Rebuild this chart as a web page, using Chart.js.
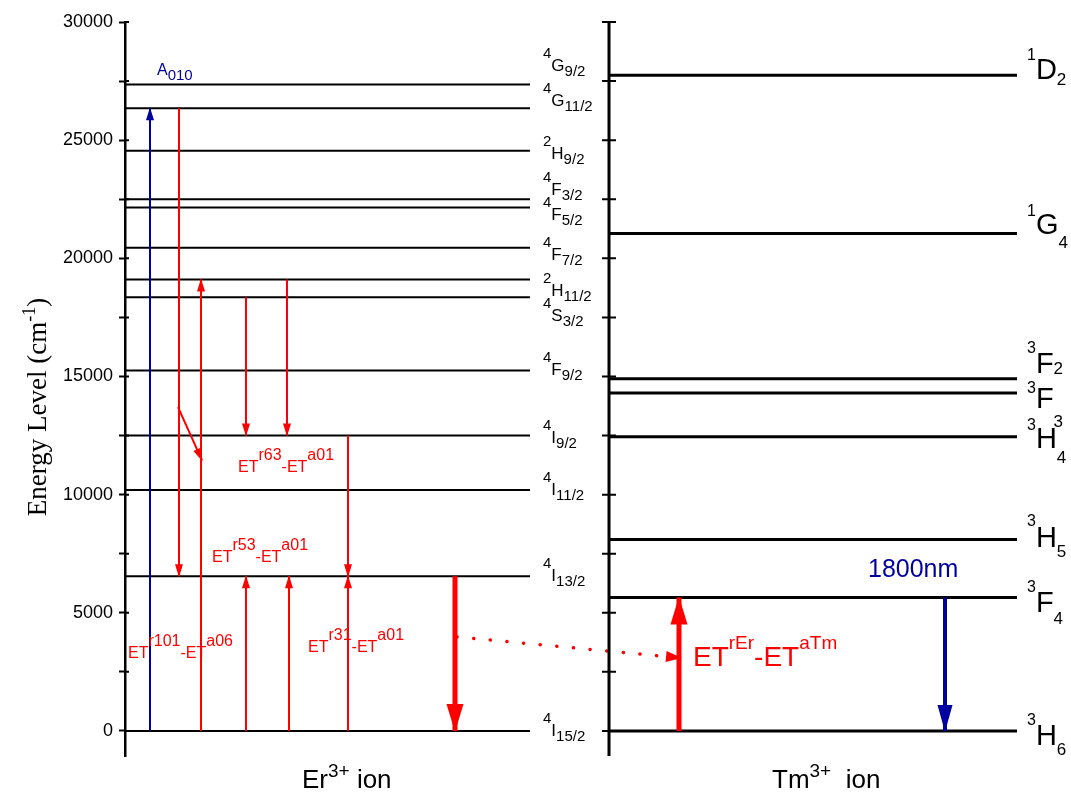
<!DOCTYPE html>
<html>
<head>
<meta charset="utf-8">
<script src="https://cdn.jsdelivr.net/npm/chart.js@4.4.1/dist/chart.umd.min.js"></script>
<style>
  html, body { margin: 0; padding: 0; background: #fff; }
  #wrap { width: 1071px; height: 796px; }
</style>
</head>
<body>
<div id="wrap"><canvas id="chartLevels"></canvas></div>
<script>
// Niveles de energia (cm-1)
const erTerms = [["4","G","9/2"],["4","G","11/2"],["2","H","9/2"],["4","F","3/2"],["4","F","5/2"],
  ["4","F","7/2"],["2","H","11/2"],["4","S","3/2"],["4","F","9/2"],["4","I","9/2"],
  ["4","I","11/2"],["4","I","13/2"],["4","I","15/2"]];
const erEnergy = [27350, 26350, 24550, 22500, 22150, 20450, 19100, 18350, 15250, 12500, 10200, 6550, 0];

const tmTerms = [["1","D","2"],["1","G","4"],["3","F","2"],["3","F","3"],["3","H","4"],
  ["3","H","5"],["3","F","4"],["3","H","6"]];
const tmEnergy = [27750, 21050, 14900, 14300, 12450, 8100, 5650, 0];

const tickValues = [0, 2500, 5000, 7500, 10000, 12500, 15000, 17500, 20000, 22500, 25000, 27500, 30000];

// Transiciones: energia de salida / llegada
const arrowFrom = [0, 26350, 0, 13700, 18350, 19100, 12500, 0, 0, 0, 6550, 3980, 0, 5650];
const arrowTo   = [26350, 6550, 19100, 11450, 12500, 12500, 6550, 6550, 6550, 6550, 0, 3090, 5650, 0];

// Etiquetas de transferencia
const etTexts = [
  ["A", "010"],
  ["ET", "r63", "-ET", "a01"],
  ["ET", "r53", "-ET", "a01"],
  ["ET", "r101", "-ET", "a06"],
  ["ET", "r31", "-ET", "a01"],
  ["ET", "rEr", "-ET", "aTm"],
  ["1800nm"]
];
const etEnergy = [27760, 10960, 7150, 3090, 3340, 2750, 6520];

// ---- layout (columnas en px desde el eje izquierdo) ----
const X_MAX = 946;
const erSpan = [0, 405];
const tmSpan = [484, 892];
const tmAxisX = 484;
const RED = "#ff0000", BLUE = "#0000a0";
const arrowCols = [
  [25, 25, BLUE, 2, 12, 8], [54, 54, RED, 2, 12, 8], [76, 76, RED, 2, 12, 8],
  [53, 77, RED, 2, 12, 8], [121, 121, RED, 2, 12, 8], [162, 162, RED, 2, 12, 8],
  [223, 223, RED, 2, 12, 8], [121, 121, RED, 2, 12, 8], [164, 164, RED, 2, 12, 8],
  [223, 223, RED, 2, 12, 8], [330, 330, RED, 5, 27, 17], [332, 556, RED, 3.5, 15, 11],
  [554, 554, RED, 5, 27, 17], [820, 820, BLUE, 4, 26, 15]
];
const dottedIdx = 11;
const erLabelDy = [-14, -2, 8, -4, 12, 12, 16, 24, 4, 7, 5, 5, 5];
const tmLabelDy = [4, 0, -6, 15, 11, 7, 15, 14];
const tmSupRise = [19, 18, 20, 15, 18, 21, 20, 20];
const tmSubDrop = [6, 14, 1, 19, 15, 10, 12, 10];
const etCols = [32, 113, 87, 3, 183, 568, 743];

const SANS = '"Liberation Sans", Arial, sans-serif';
const SERIF = '"Liberation Serif", "Times New Roman", serif';

const runs = (ctx, x, y, parts, color) => {
  ctx.fillStyle = color;
  ctx.textAlign = "left";
  ctx.textBaseline = "alphabetic";
  for (const [t, size, rise, fam] of parts) {
    ctx.font = size + "px " + (fam || SANS);
    ctx.fillText(t, x, y - rise);
    x += ctx.measureText(t).width;
  }
  return x;
};

const levelData = (energies, span) => {
  const pts = [];
  energies.forEach((e) => {
    pts.push({ x: span[0], y: e }, { x: span[1], y: e }, { x: span[1], y: null });
  });
  return pts;
};

const datasets = [
  { data: levelData(erEnergy, erSpan), borderColor: "#000", borderWidth: 2, order: 3 },
  { data: levelData(tmEnergy, tmSpan), borderColor: "#000", borderWidth: 3, order: 3 }
];
arrowFrom.forEach((from, i) => {
  const [x0, x1, color, w, hl, hw] = arrowCols[i];
  const ds = {
    data: [{ x: x0, y: from }, { x: x1, y: arrowTo[i] }],
    borderColor: color,
    borderWidth: w,
    order: 1,
    arrowHead: [hl, hw]
  };
  if (i === dottedIdx) {
    ds.borderDash = [0.1, 16.6];
    ds.borderCapStyle = "round";
  }
  datasets.push(ds);
});

const decor = {
  id: "decor",
  afterDatasetsDraw(chart) {
    const ctx = chart.ctx;
    const xs = chart.scales.x, ys = chart.scales.y;
    const area = chart.chartArea;
    ctx.save();

    // puntas de flecha
    chart.data.datasets.forEach((ds, i) => {
      if (!ds.arrowHead) return;
      const pts = chart.getDatasetMeta(i).data;
      const p0 = pts[0], p1 = pts[1];
      const a = Math.atan2(p1.y - p0.y, p1.x - p0.x);
      const [len, wid] = ds.arrowHead;
      const bx = p1.x - len * Math.cos(a), by = p1.y - len * Math.sin(a);
      const nx = -Math.sin(a) * wid / 2, ny = Math.cos(a) * wid / 2;
      ctx.fillStyle = ds.borderColor;
      ctx.beginPath();
      ctx.moveTo(p1.x + Math.cos(a) * 1, p1.y + Math.sin(a) * 1);
      ctx.lineTo(bx + nx, by + ny);
      ctx.lineTo(bx - nx, by - ny);
      ctx.closePath();
      ctx.fill();
    });

    // eje derecho (Tm) con marcas cruzadas, y marcas internas del izquierdo
    ctx.strokeStyle = "#000";
    const ax = xs.getPixelForValue(tmAxisX);
    ctx.lineWidth = 3;
    ctx.beginPath();
    ctx.moveTo(ax, ys.getPixelForValue(ys.max));
    ctx.lineTo(ax, ys.getPixelForValue(ys.min));
    ctx.stroke();
    ctx.lineWidth = 2;
    tickValues.forEach((v) => {
      const py = ys.getPixelForValue(v);
      ctx.beginPath();
      ctx.moveTo(ax - 7, py);
      ctx.lineTo(ax + 7, py);
      ctx.moveTo(area.left, py);
      ctx.lineTo(area.left + 4, py);
      ctx.stroke();
    });

    // etiquetas Er
    erTerms.forEach(([sup, main, sub], i) => {
      const py = ys.getPixelForValue(erEnergy[i]) + erLabelDy[i];
      runs(ctx, xs.getPixelForValue(418), py,
        [[sup, 15, 13], [main, 17, 0], [sub, 15, -5]], "#000");
    });
    // etiquetas Tm
    tmTerms.forEach(([sup, main, sub], i) => {
      const py = ys.getPixelForValue(tmEnergy[i]) + tmLabelDy[i];
      runs(ctx, xs.getPixelForValue(902), py,
        [[sup, 16, tmSupRise[i]], [main, 29, 0], [sub, 17, -tmSubDrop[i]]], "#000");
    });

    // etiquetas de transiciones
    etTexts.forEach((parts, i) => {
      const px = xs.getPixelForValue(etCols[i]);
      const py = ys.getPixelForValue(etEnergy[i]);
      if (i === 0) {
        runs(ctx, px, py, [[parts[0], 16, 0], [parts[1], 15, -5]], BLUE);
      } else if (i === 5) {
        runs(ctx, px, py, [[parts[0], 28, 0], [parts[1], 19, 17], [parts[2], 28, 0], [parts[3], 19, 17]], RED);
      } else if (i === 6) {
        runs(ctx, px, py, [[parts[0], 25, 0]], BLUE);
      } else {
        runs(ctx, px, py, [[parts[0], 16, 0], [parts[1], 16, 12], [parts[2], 16, 0], [parts[3], 16, 12]], RED);
      }
    });

    // titulos de ejes
    const by = area.bottom + 32;
    runs(ctx, xs.getPixelForValue(177), by, [["Er", 26, 0], ["3+", 19, 11], [" ion", 26, 0]], "#000");
    runs(ctx, xs.getPixelForValue(647), by, [["Tm", 26, 0], ["3+", 19, 11], ["  ion", 26, 0]], "#000");

    ctx.translate(37, 407);
    ctx.rotate(-Math.PI / 2);
    const yt = [["Energy Level (cm", 27, 0, SERIF], ["-1", 18, 11, SERIF], [")", 27, 0, SERIF]];
    let w = 0;
    yt.forEach(([t, s, r, f]) => { ctx.font = s + "px " + f; w += ctx.measureText(t).width; });
    runs(ctx, -w / 2, 9, yt, "#000");
    ctx.restore();
  }
};

new Chart(document.getElementById("chartLevels").getContext("2d"), {
  type: "line",
  data: { datasets },
  options: {
    responsive: true,
    maintainAspectRatio: false,
    animation: false,
    layout: { padding: { left: 0, right: 0, top: 22, bottom: 40 } },
    elements: { point: { radius: 0 }, line: { tension: 0 } },
    plugins: { legend: { display: false }, tooltip: { enabled: false } },
    scales: {
      x: { type: "linear", display: false, min: 0, max: X_MAX },
      y: {
        type: "linear",
        min: -1060,
        max: 30000,
        afterFit: (scale) => { scale.width = 125; },
        afterBuildTicks: (scale) => { scale.ticks = tickValues.map((v) => ({ value: v })); },
        border: { display: true, color: "#000", width: 2.5 },
        grid: { display: true, drawOnChartArea: false, drawTicks: true, tickLength: 6, tickWidth: 2, tickColor: "#000" },
        ticks: {
          padding: 6,
          color: "#000",
          font: { family: "Liberation Sans", size: 18 },
          callback: (v) => (v % 5000 === 0 ? String(v) : "")
        }
      }
    }
  },
  plugins: [decor]
});
</script>
</body>
</html>
